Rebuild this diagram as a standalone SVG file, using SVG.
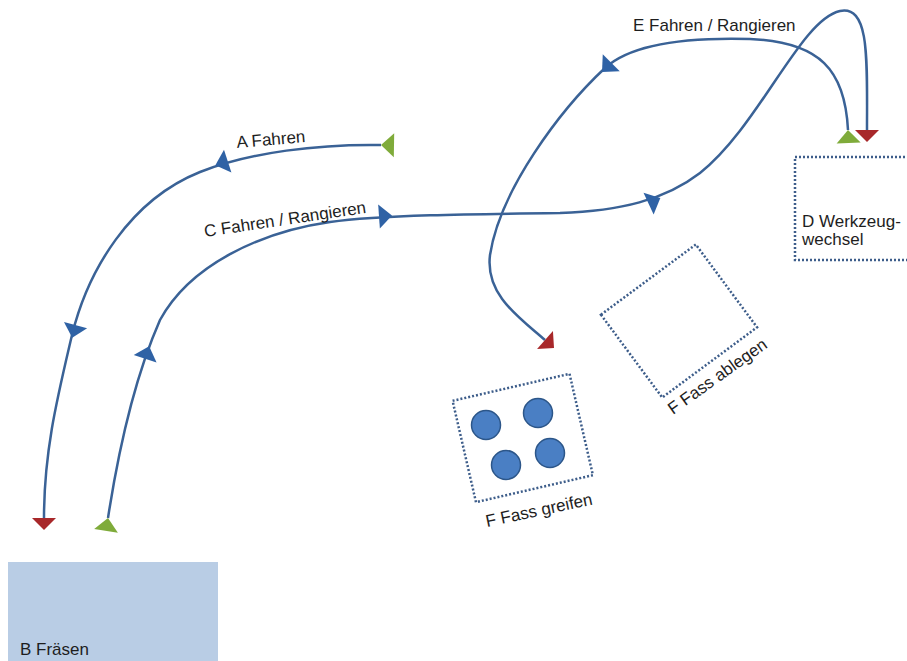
<svg xmlns="http://www.w3.org/2000/svg" xmlns:xlink="http://www.w3.org/1999/xlink" width="907" height="661" viewBox="0 0 907 661">
  <style>
    .lbl { font-family: "Liberation Sans", Arial, sans-serif; font-size: 17px; fill: #1e1e1e; }
    .route { fill: none; stroke: #3a6296; stroke-width: 2.5; }
    .zone { fill: none; stroke: #3d5d8a; stroke-width: 2.5; stroke-dasharray: 2 2; }
    .barrel { fill: #4a7fc4; stroke: #2c5689; stroke-width: 1.5; }
    .dir { fill: #2f62a5; }
  </style>
  <defs>
    <!-- start of a route: green wedge sitting beyond the first point -->
    <marker id="start" markerUnits="userSpaceOnUse" markerWidth="30" markerHeight="30" viewBox="-15 -15 30 30" refX="0" refY="0" orient="auto">
      <polygon points="0,0 -13,-12 -13,12" fill="#7fab3a"/>
    </marker>
    <!-- end of a route: red wedge past the last point -->
    <marker id="end" markerUnits="userSpaceOnUse" markerWidth="30" markerHeight="30" viewBox="-15 -15 30 30" refX="0" refY="0" orient="auto">
      <polygon points="0,-12 0,12 12,0" fill="#a8282a"/>
    </marker>
    <!-- direction arrow placed along a route -->
    <polygon id="arw" class="dir" points="7,0 -6,-12 -6,12"/>
  </defs>

  <!-- B Fräsen -->
  <g id="node-b">
    <rect x="8" y="562" width="210" height="100" fill="#b9cde5"/>
    <text class="lbl" x="20" y="655">B Fräsen</text>
  </g>

  <!-- D Werkzeugwechsel -->
  <g id="node-d">
    <rect class="zone" x="795" y="157" width="125" height="103"/>
    <text class="lbl" x="802" y="227">D Werkzeug-</text>
    <text class="lbl" x="802" y="245">wechsel</text>
  </g>

  <!-- F Fass greifen -->
  <g id="node-f-greifen">
    <rect class="zone" x="-60" y="-52" width="120" height="104" transform="translate(522.75,438) rotate(-13)"/>
    <circle class="barrel" cx="486" cy="425" r="14.5"/>
    <circle class="barrel" cx="538" cy="413" r="14.5"/>
    <circle class="barrel" cx="506" cy="465" r="14.5"/>
    <circle class="barrel" cx="550" cy="453" r="14.5"/>
    <text class="lbl" transform="translate(487,527) rotate(-12)">F Fass greifen</text>
  </g>

  <!-- F Fass ablegen -->
  <g id="node-f-ablegen">
    <rect class="zone" x="-59" y="-51.5" width="118" height="103" transform="translate(679,321) rotate(-36.5)"/>
    <text class="lbl" transform="translate(673,415) rotate(-35.5)">F Fass ablegen</text>
  </g>

  <!-- routes -->
  <g id="connectors">
    <path id="route-a" class="route" marker-start="url(#start)" marker-end="url(#end)"
          d="M381,145 C320,144 250,152 200,172 C130,200 88,270 72,335 C58,395 44,450 44,518"/>
    <path id="route-c" class="route" marker-start="url(#start)" marker-end="url(#end)"
          d="M108,518 C120,440 138,370 160,320 C190,265 260,232 330,222 C380,215 470,214 560,213 C620,211 665,200 700,173 C760,125 800,20 840,11 C870,5 867,60 867,130"/>
    <path id="route-e" class="route" marker-start="url(#start)" marker-end="url(#end)"
          d="M848,130 C845,70 820,42 750,39 C680,37 630,45 605,68 C560,110 500,190 490,255 C485,295 520,318 545,340"/>

    <use xlink:href="#arw" transform="translate(222,163) rotate(162)"/>
    <use xlink:href="#arw" transform="translate(74,331) rotate(105)"/>
    <use xlink:href="#arw" transform="translate(147,353) rotate(-72)"/>
    <use xlink:href="#arw" transform="translate(385,216) rotate(-4)"/>
    <use xlink:href="#arw" transform="translate(654,201) rotate(-25)"/>
    <use xlink:href="#arw" transform="translate(607,67) rotate(135)"/>

    <text class="lbl" transform="translate(205,237) rotate(-8.5)">C Fahren / Rangieren</text>
    <text class="lbl" transform="translate(237,148) rotate(-5)">A Fahren</text>
    <text class="lbl" x="633" y="31">E Fahren / Rangieren</text>
  </g>
</svg>
